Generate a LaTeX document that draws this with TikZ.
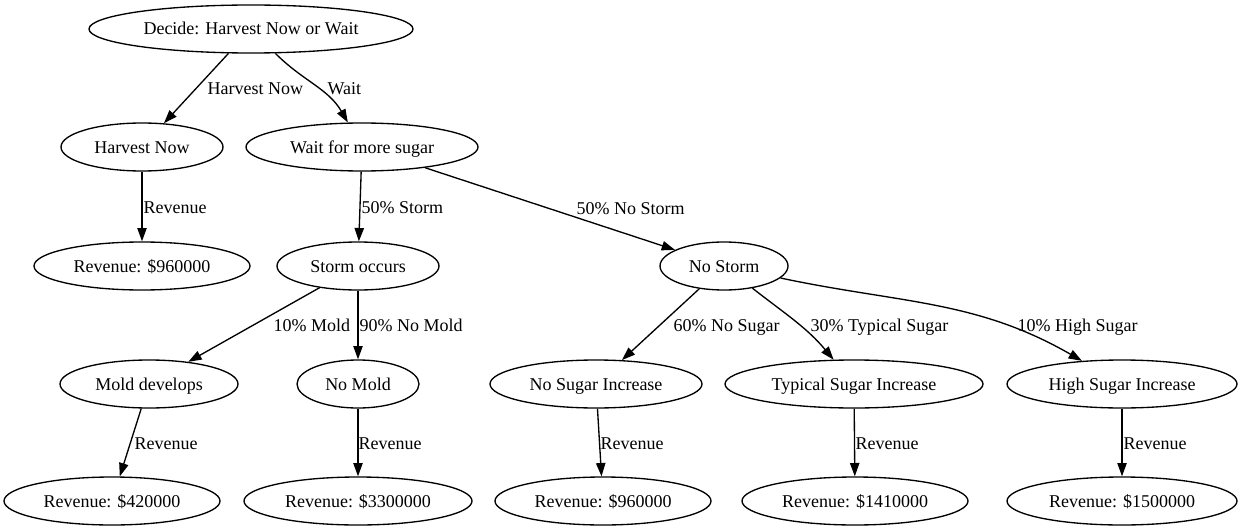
\documentclass[tikz,border=0pt]{standalone}
\usepackage{fontspec}
\setmainfont{Liberation Serif}
\usetikzlibrary{arrows.meta, shapes.geometric}

\begin{document}
\begin{tikzpicture}[
  x=0.75pt, y=-0.75pt,
  >={Triangle[length=10pt, width=7pt]},
  line width=1pt,
  font=\fontsize{13.5}{16}\selectfont,
  state/.style={draw, ellipse, minimum height=36pt, inner sep=0pt, text height=9pt, text depth=0pt},
  lbl/.style={anchor=west, inner sep=0pt, text height=9pt, text depth=0pt}
]
  \useasboundingbox (0,0) rectangle (1244,531);

  % Decision and first choice
  \node[state, minimum width=243pt] (decide) at (251,29) {Decide: Harvest Now or Wait};
  \node[state, minimum width=121.5pt] (hnow) at (142,147) {Harvest Now};
  \node[state, minimum width=174pt] (wait) at (362,147) {Wait for more sugar};
  \node[state, minimum width=162pt] (revhnow) at (142,266) {Revenue: \$960000};

  % Weather outcomes
  \node[state, minimum width=121.5pt] (storm) at (358,266) {Storm occurs};
  \node[state, minimum width=96pt] (nostorm) at (724,266) {No Storm};

  % Mold and sugar outcomes
  \node[state, minimum width=133.5pt] (mold) at (149,384) {Mold develops};
  \node[state, minimum width=91.5pt] (nomold) at (358,384) {No Mold};
  \node[state, minimum width=159pt] (nosugar) at (596,384) {No Sugar Increase};
  \node[state, minimum width=193.5pt] (typsugar) at (854,384) {Typical Sugar Increase};
  \node[state, minimum width=172.5pt] (highsugar) at (1122,384) {High Sugar Increase};

  % Revenues
  \node[state, minimum width=162pt] (revmold) at (112,501) {Revenue: \$420000};
  \node[state, minimum width=171pt] (revnomold) at (358,501) {Revenue: \$3300000};
  \node[state, minimum width=162pt] (revnosugar) at (603,501) {Revenue: \$960000};
  \node[state, minimum width=169.5pt] (revtypsugar) at (855,501) {Revenue: \$1410000};
  \node[state, minimum width=172.5pt] (revhighsugar) at (1122,501) {Revenue: \$1500000};

  % Connections
  \draw[->] (decide) -- (hnow) node[lbl] at (207,89) {Harvest Now};
  \draw[->] (decide) to[out=-45, in=120] (wait) node[lbl] at (327,89) {Wait};
  \draw[->] (hnow) -- (revhnow) node[lbl] at (143,207) {Revenue};
  \draw[->] (wait) -- (storm) node[lbl] at (361,207) {50\% Storm};
  \draw[->] (wait) -- (nostorm) node[lbl] at (576,208) {50\% No Storm};

  \draw[->] (storm) -- (mold) node[lbl] at (273,325) {10\% Mold};
  \draw[->] (storm) -- (nomold) node[lbl] at (359,325) {90\% No Mold};
  \draw[->] (nostorm) -- (nosugar) node[lbl] at (673,325) {60\% No Sugar};
  \draw[->] (nostorm) to[out=-38, in=130] (typsugar) node[lbl] at (810,325) {30\% Typical Sugar};
  \draw[->] (nostorm) to[out=-12, in=150] (highsugar) node[lbl] at (1017,325) {10\% High Sugar};

  \draw[->] (mold) -- (revmold) node[lbl] at (134,443) {Revenue};
  \draw[->] (nomold) -- (revnomold) node[lbl] at (358,443) {Revenue};
  \draw[->] (nosugar) -- (revnosugar) node[lbl] at (600,443) {Revenue};
  \draw[->] (typsugar) -- (revtypsugar) node[lbl] at (855,443) {Revenue};
  \draw[->] (highsugar) -- (revhighsugar) node[lbl] at (1123,443) {Revenue};

\end{tikzpicture}
\end{document}
